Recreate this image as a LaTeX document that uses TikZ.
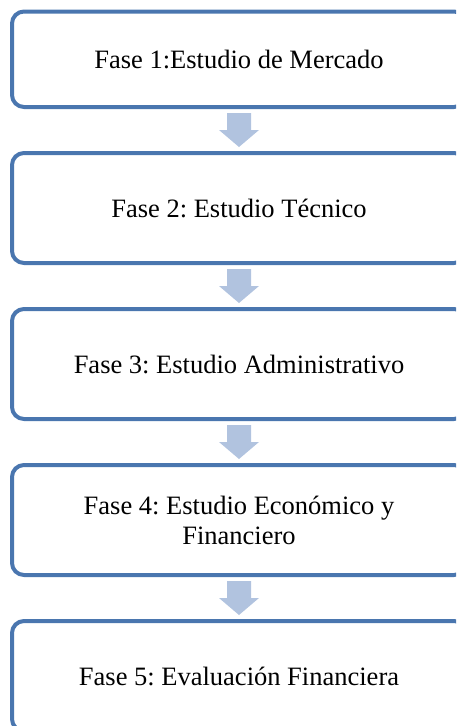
\documentclass[tikz,border=0pt]{standalone}
\usepackage{fontspec}
\setmainfont{Liberation Serif}
\usetikzlibrary{positioning}
\frenchspacing

\definecolor{bordeazul}{RGB}{74,118,175}
\definecolor{flechaazul}{RGB}{177,195,223}

\tikzset{
    fase/.style={draw=bordeazul, line width=4pt, rounded corners=12pt,
        minimum width=454pt, minimum height=110pt, outer sep=0pt,
        align=center, font=\fontsize{26.5}{30}\selectfont},
    flecha/.style={fill=flechaazul}
}

\begin{document}
\begin{tikzpicture}[x=1pt, y=-1pt, node distance=46pt]
    \clip (0,0) rectangle (456,726);

    % Boxes
    \node[fase, minimum height=95.5pt] (f1) at (239,59.25) {Fase 1:Estudio de Mercado};
    \node[fase, below=of f1] (f2) {Fase 2: Estudio Técnico};
    \node[fase, below=of f2] (f3) {Fase 3: Estudio Administrativo};
    \node[fase, below=of f3] (f4) {Fase 4: Estudio Económico y\\Financiero};
    \node[fase, below=of f4] (f5) {Fase 5: Evaluación Financiera};

    % Block arrows between boxes
    \foreach \a/\b in {f1/f2, f2/f3, f3/f4, f4/f5}
        \fill[flecha] ([xshift=-12pt, yshift=-6pt]\a.south)
            -- ([xshift=12pt, yshift=-6pt]\a.south)
            -- ([xshift=12pt, yshift=-23pt]\a.south)
            -- ([xshift=20pt, yshift=-23pt]\a.south)
            -- ([yshift=6pt]\b.north)
            -- ([xshift=-20pt, yshift=-23pt]\a.south)
            -- ([xshift=-12pt, yshift=-23pt]\a.south) -- cycle;
\end{tikzpicture}
\end{document}
